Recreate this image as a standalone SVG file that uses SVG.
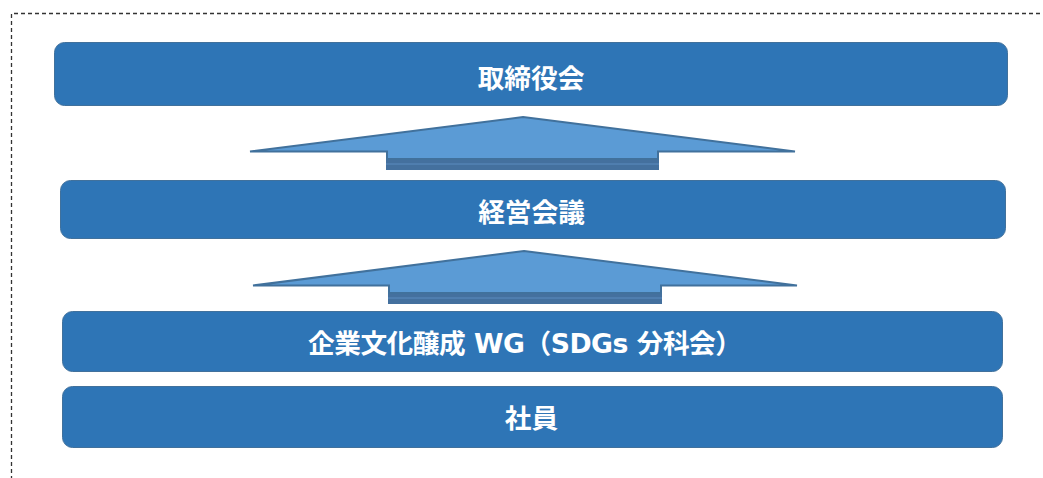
<svg xmlns="http://www.w3.org/2000/svg" width="1043" height="478" viewBox="0 0 1043 478">
<style>
.box{fill:#2E75B6;stroke:#41719C;stroke-width:1}
.arr{fill:#5B9BD5;stroke:#41719C;stroke-width:2;stroke-linejoin:miter}
.band{fill:#44709E}
.bandline{stroke:#5B8BBF;stroke-width:1}
.lbl{fill:#FFFFFF;font-family:"DejaVu Sans","Noto Sans CJK JP",sans-serif;font-weight:bold;font-size:26.7px;text-anchor:middle}
.frame{fill:none;stroke:#333;stroke-width:1.3;stroke-dasharray:4 3}
</style>
<rect width="1043" height="478" fill="#FFFFFF"/>
<path class="frame" d="M11.5,480 L11.5,13.5 L1045,13.5"/>
<g id="connectors">
<g id="arrow1">
<rect class="band" x="386" y="158" width="273" height="12"/>
<line class="bandline" x1="386" y1="164" x2="659" y2="164"/>
<path class="arr" d="M523,117 L795,151.5 L658,151.5 L658,159 L387,159 L387,151.5 L250,151.5 Z"/>
</g>
<g id="arrow2">
<rect class="band" x="388" y="292" width="274" height="12"/>
<line class="bandline" x1="388" y1="298" x2="662" y2="298"/>
<path class="arr" d="M524,251 L797,285.5 L661,285.5 L661,293 L389,293 L389,285.5 L253,285.5 Z"/>
</g>
</g>
<g id="node-board">
<rect class="box" x="54.5" y="42.5" width="953" height="63" rx="10"/>
<text class="lbl" x="531" y="87.5">取締役会</text>
</g>
<g id="node-mgmt">
<rect class="box" x="60.5" y="180.5" width="945" height="58" rx="10"/>
<text class="lbl" x="531.5" y="221.5">経営会議</text>
</g>
<g id="node-wg">
<rect class="box" x="62.5" y="311.5" width="940" height="60" rx="10"/>
<text class="lbl" x="525" y="353" textLength="434" lengthAdjust="spacing">企業文化醸成 WG（SDGs 分科会）</text>
</g>
<g id="node-staff">
<rect class="box" x="62.5" y="386.5" width="940" height="61" rx="10"/>
<text class="lbl" x="531.5" y="427.5">社員</text>
</g>
</svg>
